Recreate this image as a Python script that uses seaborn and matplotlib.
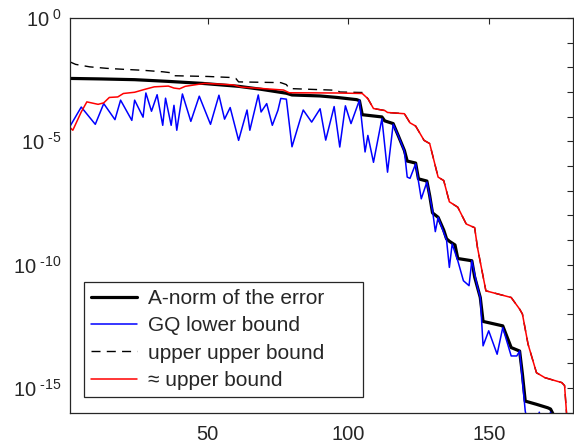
import numpy as np
import pandas as pd
import matplotlib
matplotlib.use("Agg")
import matplotlib.pyplot as plt
import seaborn as sns
from matplotlib.ticker import FixedLocator, FixedFormatter, NullLocator
from matplotlib.lines import Line2D

# ---------------- data (log10 of values) ----------------
black_it = [1, 12, 24, 36, 48, 61, 69, 78, 80, 90, 96, 103, 104, 105, 112, 113, 116, 118, 120, 121,
            124, 125, 128, 129, 130, 132, 134, 135, 136, 138, 139, 144, 145, 147, 148, 155, 158, 161,
            162, 163, 167, 171, 172, 174]
black_log = [-2.45, -2.47, -2.5, -2.57, -2.65, -2.77, -2.89, -3.05, -3.12, -3.16, -3.22, -3.31, -3.35,
             -3.92, -4.01, -4.17, -4.28, -4.82, -5.37, -5.8, -5.88, -6.52, -6.61, -7.2, -7.9, -8.08,
             -8.6, -8.95, -9.05, -9.2, -9.75, -9.84, -10.5, -11.33, -12.3, -12.48, -13.36, -13.5,
             -14.44, -15.53, -15.66, -15.8, -15.85, -16.3]

blue_it = [1, 5, 10, 13, 17, 19, 23, 24, 27, 28, 30, 32, 34, 35, 37, 38, 39, 41, 44, 47,
           51, 54, 56, 58, 61, 64, 65, 68, 69, 71, 73, 75, 76, 78, 80, 83, 84, 87, 90, 92,
           95, 97, 99, 101, 104, 106, 107, 109, 112, 114, 116, 118, 120, 121, 122, 124, 126, 128, 130, 131,
           132, 134, 135, 136, 137, 139, 141, 143, 144, 146, 147, 148, 150, 153, 155, 158, 160, 161, 163, 164,
           167, 168, 169, 171, 172, 173]
blue_log = [-4.39, -3.61, -4.31, -3.47, -4.12, -3.33, -4.15, -3.33, -4.02, -3.04,
            -3.78, -3.11, -4.35, -3.25, -4.35, -3.54, -4.55, -3.08, -4.19, -3.17,
            -4.31, -3.13, -4.1, -3.63, -4.96, -3.73, -4.55, -3.12, -3.81, -3.47,
            -4.35, -3.74, -3.26, -3.29, -5.22, -4.08, -3.73, -4.22, -3.68, -4.95,
            -3.59, -5.23, -3.56, -4.28, -3.33, -5.43, -4.76, -5.85, -4.08, -6.25,
            -4.31, -4.82, -5.4, -6.45, -6.5, -5.91, -7.33, -6.65, -7.8, -8.66,
            -8.08, -8.7, -9.0, -10.11, -9.16, -9.84, -10.65, -10.85, -9.84, -10.9,
            -11.33, -13.29, -12.68, -13.63, -12.55, -13.7, -13.7, -13.5, -15.93, -16.5,
            -16.5, -15.98, -16.5, -16.5, -15.98, -16.5]

dashed_it = [1, 3, 8, 14, 20, 27, 34, 37, 38, 50, 58, 60, 61, 76, 78, 79, 96, 97, 105]
dashed_log = [-1.78, -1.88, -1.98, -2.04, -2.08, -2.12, -2.18, -2.22, -2.34, -2.37, -2.41, -2.45,
              -2.59, -2.62, -2.7, -2.86, -2.93, -3.0, -3.02]

red_it = [1, 2, 5, 7, 11, 13, 15, 18, 20, 24, 28, 31, 36, 38, 40, 42, 46, 49, 59, 62,
          77, 79, 96, 105, 107, 109, 113, 114, 120, 122, 124, 127, 129, 132, 134, 136, 139, 142, 145, 146,
          149, 158, 161, 162, 164, 167, 170, 176, 177, 178]
red_log = [-4.44, -4.55, -3.81, -3.4, -3.5, -3.44, -3.22, -3.2, -3.06, -3.01,
           -2.88, -2.79, -2.76, -2.84, -2.87, -2.77, -2.7, -2.65, -2.71, -2.8,
           -2.92, -3.03, -3.04, -3.06, -3.27, -3.67, -3.75, -3.83, -3.88, -4.25,
           -4.38, -4.96, -5.09, -6.45, -6.59, -7.45, -7.67, -8.35, -8.5, -9.3,
           -11.06, -11.33, -11.8, -12.0, -13.22, -14.38, -14.58, -14.78, -14.9, -16.5]

labels = ["A-norm of the error", "GQ lower bound", "upper upper bound", "\u2248 upper bound"]
xtick_vals = [50, 100, 150]
ytick_exps = list(range(-16, 1))
ylabel_exps = [0, -5, -10, -15]

# the dashed bound coincides with the red one after the last listed point
red_tail_it = [i for i in red_it if i > dashed_it[-1]]
red_tail_log = [v for i, v in zip(red_it, red_log) if i > dashed_it[-1]]
dashed_full_it = dashed_it + red_tail_it
dashed_full_log = dashed_log + red_tail_log

# ---------------- style ----------------
sns.set_theme(style="white")
plt.rcParams["font.family"] = ["Liberation Sans", "DejaVu Sans"]
plt.rcParams["mathtext.fontset"] = "custom"
plt.rcParams["mathtext.rm"] = "Liberation Sans"
plt.rcParams["mathtext.it"] = "Liberation Sans:italic"
plt.rcParams["mathtext.bf"] = "Liberation Sans:bold"

fig = plt.figure(figsize=(5.74, 4.43), dpi=100)
ax = fig.add_axes([70 / 574, 30.3 / 443, 503 / 574, 394.7 / 443])

series = [
    (black_it, black_log, "black", 2.3, "-"),
    (blue_it, blue_log, "#0000ff", 1.1, "-"),
    (dashed_full_it, dashed_full_log, "black", 1.0, "--"),
    (red_it, red_log, "#ff0000", 1.1, "-"),
]
handles = []
for (xs, ls_, col, lw, sty), lab in zip(series, labels):
    df = pd.DataFrame({"it": xs, "val": 10.0 ** np.array(ls_)})
    sns.lineplot(data=df, x="it", y="val", ax=ax, color=col, linewidth=lw,
                 estimator=None, sort=False, legend=False)
    ln = ax.get_lines()[-1]
    ln.set_linestyle(sty)
    if sty == "--":
        ln.set_dashes((6.5, 4.5))
    h = Line2D([], [], color=col, lw=lw, linestyle=sty)
    if sty == "--":
        h.set_dashes((6.5, 4.5))
    handles.append(h)

ax.set_yscale("log")
ax.set_xlim(1, 180)
ax.set_ylim(1e-16, 1.0)


def ylab(e):
    if e not in ylabel_exps:
        return ""
    if e < 0:
        return r"$10^{\ \text{-}%d}$" % (-e)
    return r"$10^{\ %d}$" % e


ax.yaxis.set_major_locator(FixedLocator([10.0 ** e for e in ytick_exps]))
ax.yaxis.set_major_formatter(FixedFormatter([ylab(e) for e in ytick_exps]))
ax.yaxis.set_minor_locator(NullLocator())
ax.xaxis.set_major_locator(FixedLocator(xtick_vals))
ax.xaxis.set_major_formatter(FixedFormatter([str(v) for v in xtick_vals]))
ax.xaxis.set_minor_locator(NullLocator())

axcol = "#262626"
ax.tick_params(axis="both", which="major", direction="in", length=4.5, width=0.8,
               top=True, right=True, color=axcol, labelcolor=axcol, labelsize=14.5)
ax.tick_params(axis="y", pad=6)
ax.tick_params(axis="x", pad=9)
for s in ax.spines.values():
    s.set_color(axcol)
    s.set_linewidth(0.9)
ax.set_xlabel("")
ax.set_ylabel("")
ax.grid(False)

leg = ax.legend(handles, labels, loc="lower left",
                bbox_to_anchor=(14 / 503, 15.4 / 394.7, 278.7 / 503, 0.2), mode="expand",
                borderaxespad=0, fontsize=15, frameon=True, fancybox=False, shadow=False,
                framealpha=1, edgecolor=axcol, handlelength=2.2, handletextpad=0.5,
                labelspacing=0.4, borderpad=0.35)
leg.get_frame().set_linewidth(0.9)

fig.savefig("out.png", dpi=100)
